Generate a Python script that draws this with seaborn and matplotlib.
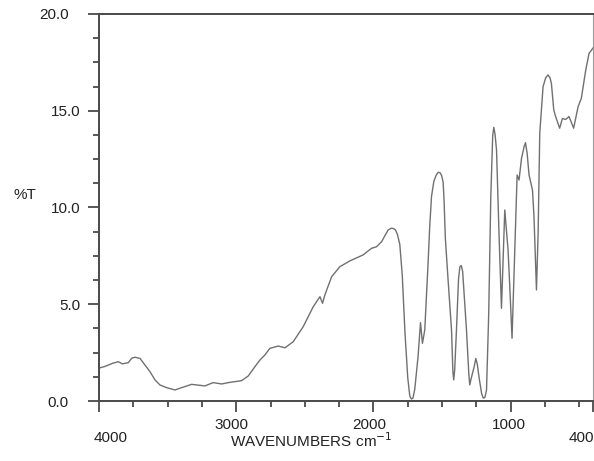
import numpy as np
import pandas as pd
import matplotlib
matplotlib.use("Agg")
import matplotlib.pyplot as plt
import matplotlib.ticker as mticker
from matplotlib.transforms import ScaledTranslation
import seaborn as sns

# spectrum: wavenumber (cm-1) and %T
wavenumber = [4000, 3960, 3932, 3900, 3859, 3830, 3787, 3760, 3738, 3701,
              3665, 3629, 3592, 3556, 3507, 3446, 3398, 3325, 3228, 3168,
              3106, 3058, 2961, 2913, 2864, 2827, 2791, 2755, 2694, 2645,
              2585, 2512, 2439, 2390, 2371, 2354, 2305, 2245, 2172, 2075,
              2014, 1978, 1941, 1893, 1870, 1857, 1840, 1825, 1808, 1790,
              1770, 1750, 1735, 1723, 1712, 1699, 1675, 1657, 1643, 1626,
              1602, 1590, 1577, 1560, 1541, 1528, 1515, 1503, 1492, 1485,
              1476, 1456, 1431, 1421, 1415, 1408, 1395, 1380, 1370, 1360,
              1350, 1322, 1305, 1298, 1290, 1265, 1254, 1243, 1230, 1212,
              1200, 1188, 1176, 1160, 1145, 1131, 1123, 1114, 1103, 1085,
              1067, 1043, 1019, 1007, 990, 970, 953, 939, 921, 902,
              892, 880, 866, 841, 830, 812, 800, 788, 764, 745,
              728, 713, 703, 686, 672, 643, 623, 599, 575, 541,
              509, 485, 453, 429, 404, 400]
transmittance = [1.70, 1.78, 1.86, 1.95, 2.03, 1.92, 1.98, 2.22, 2.26, 2.20,
                 1.86, 1.52, 1.09, 0.83, 0.69, 0.57, 0.69, 0.86, 0.78, 0.95,
                 0.88, 0.95, 1.05, 1.29, 1.77, 2.12, 2.38, 2.72, 2.84, 2.75,
                 3.06, 3.84, 4.87, 5.39, 5.05, 5.48, 6.42, 6.94, 7.24, 7.55,
                 7.89, 7.97, 8.23, 8.84, 8.93, 8.92, 8.85, 8.60, 8.10, 6.50,
                 3.50, 1.20, 0.25, 0.10, 0.15, 0.60, 2.29, 4.05, 2.98, 3.67,
                 7.10, 9.00, 10.56, 11.35, 11.70, 11.82, 11.80, 11.65, 11.30, 10.30,
                 8.40, 6.25, 3.67, 1.50, 1.09, 1.60, 3.67, 6.30, 6.94, 7.00,
                 6.70, 3.67, 1.40, 0.83, 1.10, 1.80, 2.20, 1.90, 1.20, 0.40,
                 0.15, 0.18, 0.57, 4.50, 10.50, 13.70, 14.14, 13.80, 12.97, 8.66,
                 4.79, 9.87, 7.80, 6.00, 3.24, 7.80, 11.68, 11.42, 12.54, 13.15,
                 13.35, 12.80, 11.68, 10.90, 9.52, 5.74, 8.66, 13.83, 16.24, 16.70,
                 16.85, 16.70, 16.40, 15.04, 14.69, 14.10, 14.60, 14.55, 14.70, 14.10,
                 15.20, 15.64, 17.10, 17.96, 18.20, 18.25]

x_major = [4000, 3000, 2000, 1000, 400]
x_major_labels = ["4000", "3000", "2000", "1000", "400"]
y_major = [0, 5, 10, 15, 20]

df = pd.DataFrame({"wn": wavenumber, "T": transmittance})

sns.set_style("ticks")
plt.rcParams["font.family"] = ["Liberation Sans", "DejaVu Sans"]

fig = plt.figure(figsize=(5.94, 4.61), dpi=100)
ax = fig.add_axes([99 / 594, 60 / 461, 494 / 594, 387 / 461])

sns.lineplot(data=df, x="wn", y="T", ax=ax, color="#707070", linewidth=1.0)

ax.set_xlim(4000, 400)
ax.set_ylim(0, 20)

ax.set_xticks(x_major)
ax.set_xticklabels(x_major_labels)
ax.xaxis.set_minor_locator(mticker.FixedLocator(
    [v for v in range(500, 4000, 250) if v % 1000 != 0]))
ax.set_yticks(y_major)
ax.yaxis.set_major_formatter(mticker.FormatStrFormatter("%.1f"))
ax.yaxis.set_minor_locator(mticker.MultipleLocator(1.25))

spine_col = "#4a4a4a"
for s in ax.spines.values():
    s.set_visible(True)
    s.set_color(spine_col)
    s.set_linewidth(1.4)
ax.spines["right"].set_linewidth(0.8)
ax.spines["right"].set_color("#9a9a9a")

ax.tick_params(axis="both", which="major", length=8, width=1.3, color=spine_col,
               labelsize=11, labelcolor="#222222")
ax.tick_params(axis="both", which="minor", length=4, width=1.3, color=spine_col)
ax.tick_params(axis="x", which="major", pad=4)
ax.tick_params(axis="y", which="major", pad=5)

# staggered tick labels as in the original
def shift(label, dx, dy):
    label.set_transform(label.get_transform() +
                        ScaledTranslation(dx / 100, -dy / 100, fig.dpi_scale_trans))

x_shift = [(12, 13), (-5, 0), (-4, 0), (-2, 0), (-12, 13)]
for lab, (dx, dy) in zip(ax.get_xticklabels(), x_shift):
    shift(lab, dx, dy)
y_shift = [(-12, 0), (0, 0), (0, 0), (0, 0), (-12, 0)]
for lab, (dx, dy) in zip(ax.get_yticklabels(), y_shift):
    shift(lab, dx, dy)

ax.set_xlabel("")
ax.set_ylabel("")
fig.text(311 / 594, 1 - 441 / 461, "WAVENUMBERS cm$^{-1}$", ha="center", va="center",
         fontsize=11, color="#222222")
fig.text(25 / 594, 1 - 195 / 461, "%T", ha="center", va="center",
         fontsize=11, color="#222222")

fig.savefig("out.png", dpi=100, facecolor="white")
